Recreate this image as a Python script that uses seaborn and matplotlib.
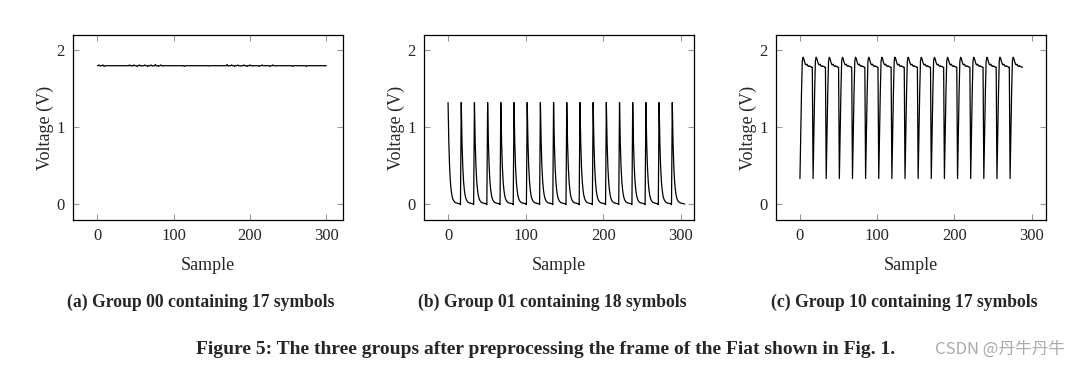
import numpy as np
import pandas as pd
import seaborn as sns
import matplotlib.pyplot as plt

# Group 00: flat line near 1.8 V with a few small glitches
a_len = 301
a_base = 1.80
a_glitch_idx = [2, 4, 7, 9, 42, 45, 48, 52, 55, 58, 62, 66, 70, 73, 76, 80, 83, 86, 114, 146,
                170, 172, 176, 180, 184, 188, 192, 196, 200, 204, 212, 216, 226, 230, 234, 256, 274]
a_glitch_val = [1.81, 1.795, 1.81, 1.79, 1.81, 1.795, 1.81, 1.79, 1.81, 1.795, 1.81, 1.79, 1.81, 1.795,
                1.815, 1.79, 1.81, 1.795, 1.79, 1.795,
                1.815, 1.795, 1.81, 1.79, 1.81, 1.795, 1.81, 1.79, 1.81, 1.795, 1.79, 1.81, 1.79, 1.81,
                1.795, 1.79, 1.79]

# Group 01: one symbol (17 samples), repeated 18 times, then a final decay
b_symbol = [1.32, 0.80, 0.48, 0.29, 0.18, 0.11, 0.07, 0.045, 0.03, 0.02, 0.015, 0.01, 0.01,
            0.005, 0.005, 0.0, -0.01]
b_count = 18
b_tail = [1.32, 0.80, 0.48, 0.29, 0.18, 0.11, 0.07, 0.045, 0.03, 0.02, 0.015, 0.01, 0.01,
          0.005, 0.005, 0.0, 0.0]

# Group 10: one symbol (17 samples), repeated 17 times
c_symbol = [0.33, 0.90, 1.45, 1.86, 1.91, 1.89, 1.85, 1.82, 1.81, 1.82, 1.80, 1.79, 1.80,
            1.79, 1.79, 1.78, 1.78]
c_count = 17

titles = ['(a) Group 00 containing 17 symbols',
          '(b) Group 01 containing 18 symbols',
          '(c) Group 10 containing 17 symbols']
caption = 'Figure 5: The three groups after preprocessing the frame of the Fiat shown in Fig. 1.'

a_vals = np.full(a_len, a_base)
a_vals[a_glitch_idx] = a_glitch_val
b_vals = np.array(b_symbol * (b_count - 1) + b_tail)
c_vals = np.array(c_symbol * c_count)

series = [a_vals, b_vals, c_vals]
xlims = [(-32, 322), (-31, 317), (-31, 318.5)]
lefts = [73, 424, 776]

sns.set_style('ticks')
plt.rcParams['font.family'] = ['Liberation Serif', 'DejaVu Serif']

fig = plt.figure(figsize=(10.87, 3.67), dpi=100)
W, H = 1087, 367

for i in range(3):
    ax = fig.add_axes([lefts[i] / W, (H - 220) / H, 270 / W, 185 / H])
    df = pd.DataFrame({'Sample': np.arange(len(series[i])), 'Voltage (V)': series[i]})
    sns.lineplot(data=df, x='Sample', y='Voltage (V)', ax=ax, color='black', lw=0.9)
    ax.set_xlim(*xlims[i])
    ax.set_ylim(-0.21, 2.2)
    ax.set_xticks([0, 100, 200, 300])
    ax.set_yticks([0, 1, 2])
    ax.tick_params(direction='in', top=True, right=True, length=4, color='#999999',
                   labelsize=12, pad=6)
    for s in ax.spines.values():
        s.set_linewidth(0.9)
        s.set_color('black')
    ax.set_xlabel('Sample', fontsize=13, labelpad=9)
    ax.set_ylabel('Voltage (V)', fontsize=13, labelpad=2)
    fig.text((lefts[i] + 128) / W, 1 - 302 / H, titles[i], ha='center', va='center',
             fontsize=12.7, fontweight='bold')

fig.text(546 / W, 1 - 349 / H, caption, ha='center', va='center', fontsize=14, fontweight='bold')
fig.text(1000 / W, 1 - 349 / H, 'CSDN @丹牛丹牛', ha='center', va='center', fontsize=12,
         color='#aaaaaa', family=['Noto Sans CJK SC', 'DejaVu Sans'])

plt.savefig('out.png', dpi=100)
